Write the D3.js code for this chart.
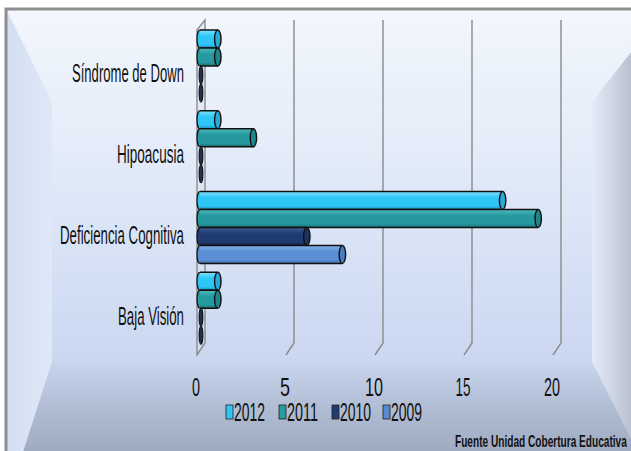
<!DOCTYPE html>
<html><head><meta charset="utf-8">
<script src="https://cdn.jsdelivr.net/npm/d3@7"></script>
<style>html,body{margin:0;padding:0;background:#fff;overflow:hidden}</style>
</head><body>
<svg id="c" width="631" height="451"></svg>
<script>
const categories = ["Síndrome de Down", "Hipoacusia", "Deficiencia Cognitiva", "Baja Visión"];
const years = ["2012", "2011", "2010", "2009"];
const values2012 = [1, 1, 17, 1];
const values2011 = [1, 3, 19, 1];
const values2010 = [0, 0, 6, 0];
const values2009 = [0, 0, 8, 0];
const tickValues = [0, 5, 10, 15, 20];
const sourceText = "Fuente Unidad Cobertura Educativa";

const seriesValues = { "2012": values2012, "2011": values2011, "2010": values2010, "2009": values2009 };
const colors = {
  "2012": { top: "#7fe2ff", mid: "#2ec6f6", bot: "#1b8cbc", cap: "#2aa8d8", leg: "#33c3ef" },
  "2011": { top: "#4fb9bd", mid: "#25999f", bot: "#176c73", cap: "#1f858c", leg: "#2a9a9e" },
  "2010": { top: "#3b5a92", mid: "#1f3b70", bot: "#122650", cap: "#1a3262", leg: "#1f3b72" },
  "2009": { top: "#86b0ea", mid: "#5b8fd6", bot: "#3d6aa8", cap: "#4b7cc0", leg: "#5a8ad2" }
};

const svg = d3.select("#c");
const defs = svg.append("defs");

function lin(id, x1, y1, x2, y2, stops) {
  const g = defs.append("linearGradient").attr("id", id)
    .attr("x1", x1).attr("y1", y1).attr("x2", x2).attr("y2", y2);
  stops.forEach(s => g.append("stop").attr("offset", s[0]).attr("stop-color", s[1]));
}
lin("gInner", 0, 0, 0, 1, [[0, "#ebf1fb"], [0.5, "#d9e4f6"], [1, "#c9d6f0"]]);
lin("gTop", 0, 0, 0, 1, [[0, "#f3f7fd"], [1, "#e8eff9"]]);
lin("gLeft", 0, 0, 1, 0, [[0, "#d3def2"], [1, "#dfe8f7"]]);
lin("gRight", 0, 0, 1, 0, [[0, "#e4ebf7"], [0.5, "#bcc4d3"], [1, "#9aa3b3"]]);
lin("gBottom", 0, 0, 0, 1, [[0, "#c9d5ee"], [0.35, "#afbbd1"], [1, "#8995a9"]]);

const O = { x0: 6, y0: 9, x1: 665, y1: 505 };
const I = { x0: 52, y0: 102, x1: 592, y1: 362 };
const bg = svg.append("g");
bg.append("rect").attr("x", O.x0).attr("y", O.y0).attr("width", O.x1 - O.x0).attr("height", O.y1 - O.y0).attr("fill", "url(#gInner)");
bg.append("polygon").attr("points", [[O.x0, O.y0], [O.x1, O.y0], [I.x1, I.y0], [I.x0, I.y0]].join(" ")).attr("fill", "url(#gTop)");
bg.append("polygon").attr("points", [[O.x0, O.y0], [I.x0, I.y0], [I.x0, I.y1], [O.x0, O.y1]].join(" ")).attr("fill", "url(#gLeft)");
bg.append("polygon").attr("points", [[O.x1, O.y0], [I.x1, I.y0], [I.x1, I.y1], [O.x1, O.y1]].join(" ")).attr("fill", "url(#gRight)");
bg.append("polygon").attr("points", [[O.x0, O.y1], [I.x0, I.y1], [I.x1, I.y1], [O.x1, O.y1]].join(" ")).attr("fill", "url(#gBottom)");
bg.append("rect").attr("x", I.x0).attr("y", I.y0).attr("width", I.x1 - I.x0).attr("height", I.y1 - I.y0).attr("fill", "url(#gInner)").attr("opacity", 0.85);
bg.append("path").attr("d", `M${O.x0},${O.y1} L${O.x0},${O.y0} L${O.x1},${O.y0}`)
  .attr("fill", "none").attr("stroke", "#8f8f8f").attr("stroke-width", 3);

const x = d3.scaleLinear().domain([0, 20]).range([200, 556]);
const y = d3.scaleBand().domain(categories).range([25, 348]);
const yy = d3.scaleBand().domain(years).range([5, 77]);
const depth = { dx: 5, dy: -11 };
const floorY = 354;
const topY = 20;

const grid = svg.append("g").attr("fill", "none").attr("stroke", "#8a8a8a").attr("stroke-width", 1.4);
tickValues.filter(v => v > 0).forEach(v => {
  const xb = x(v) + depth.dx;
  grid.append("path").attr("d", `M${xb},${topY} L${xb},${floorY + depth.dy} L${x(v) - 3},${floorY + 1}`);
});
const xw = x(0);
grid.append("path").attr("d",
  `M${xw - 3},${topY + 10} L${xw + depth.dx},${topY} L${xw + depth.dx},${floorY + depth.dy} L${xw - 3},${floorY + 1} Z`)
  .attr("fill", "#d8e2f3").attr("fill-opacity", 0.4);

years.forEach(yr => {
  const c = colors[yr];
  lin("bar" + yr, 0, 0, 0, 1, [[0, c.top], [0.35, c.mid], [0.8, c.mid], [1, c.bot]]);
});
const bars = svg.append("g");
categories.forEach((cat, ci) => {
  years.forEach(yr => {
    const v = seriesValues[yr][ci];
    const h = yy.bandwidth();
    const y0 = y(cat) + yy(yr);
    const c = colors[yr];
    const g = bars.append("g");
    if (v > 0) {
      g.append("ellipse").attr("cx", x(0)).attr("cy", y0 + h / 2).attr("rx", 3).attr("ry", h / 2)
        .attr("fill", c.mid).attr("stroke", "#111").attr("stroke-width", 1.2);
      g.append("rect").attr("x", x(0)).attr("y", y0).attr("width", x(v) - x(0)).attr("height", h)
        .attr("fill", `url(#bar${yr})`);
      g.append("path").attr("d", `M${x(0)},${y0} L${x(v)},${y0} M${x(0)},${y0 + h} L${x(v)},${y0 + h}`)
        .attr("stroke", "#111").attr("stroke-width", 1.4);
      g.append("ellipse").attr("cx", x(v)).attr("cy", y0 + h / 2).attr("rx", 3.2).attr("ry", h / 2)
        .attr("fill", c.cap).attr("stroke", "#111").attr("stroke-width", 1.4);
    } else {
      g.append("ellipse").attr("cx", x(0) + 1).attr("cy", y0 + h / 2).attr("rx", 1.8).attr("ry", h / 2)
        .attr("fill", "#1c2f55").attr("stroke", "#111").attr("stroke-width", 1.2);
    }
  });
});

// text, horizontally condensed to match the reference's narrow lettering
const font = "'Liberation Sans',Arial,sans-serif";
function txt(t, xx, yy2, size, width, anchor, weight) {
  const el = svg.append("text").attr("x", 0).attr("y", 0).text(t)
    .attr("font-family", font).attr("font-size", size).attr("fill", "#111")
    .attr("text-anchor", anchor || "start").attr("font-weight", weight || "normal");
  const nat = el.node().getComputedTextLength();
  const s = width / nat;
  el.attr("transform", `translate(${xx},${yy2}) scale(${s},1)`);
  return el;
}
const catWidths = [112, 67, 124, 66];
categories.forEach((cat, i) => {
  txt(cat, 184 - catWidths[i], y(cat) + y.bandwidth() / 2 + 17, 25, catWidths[i]);
});
const tickWidths = { 0: 8, 5: 10, 10: 18, 15: 15, 20: 16 };
tickValues.forEach(v => {
  txt(String(v), x(v) - 4, 396, 26, tickWidths[v], "middle");
});
const legX = [226, 279, 332, 383];
years.forEach((yr, i) => {
  svg.append("rect").attr("x", legX[i]).attr("y", 405).attr("width", 7).attr("height", 14)
    .attr("fill", colors[yr].leg).attr("stroke", "#222").attr("stroke-width", 0.8);
  txt(yr, legX[i] + 8, 421, 25, 31);
});
txt(sourceText, 455, 447, 16, 172, "start", "bold");
</script>
</body></html>
